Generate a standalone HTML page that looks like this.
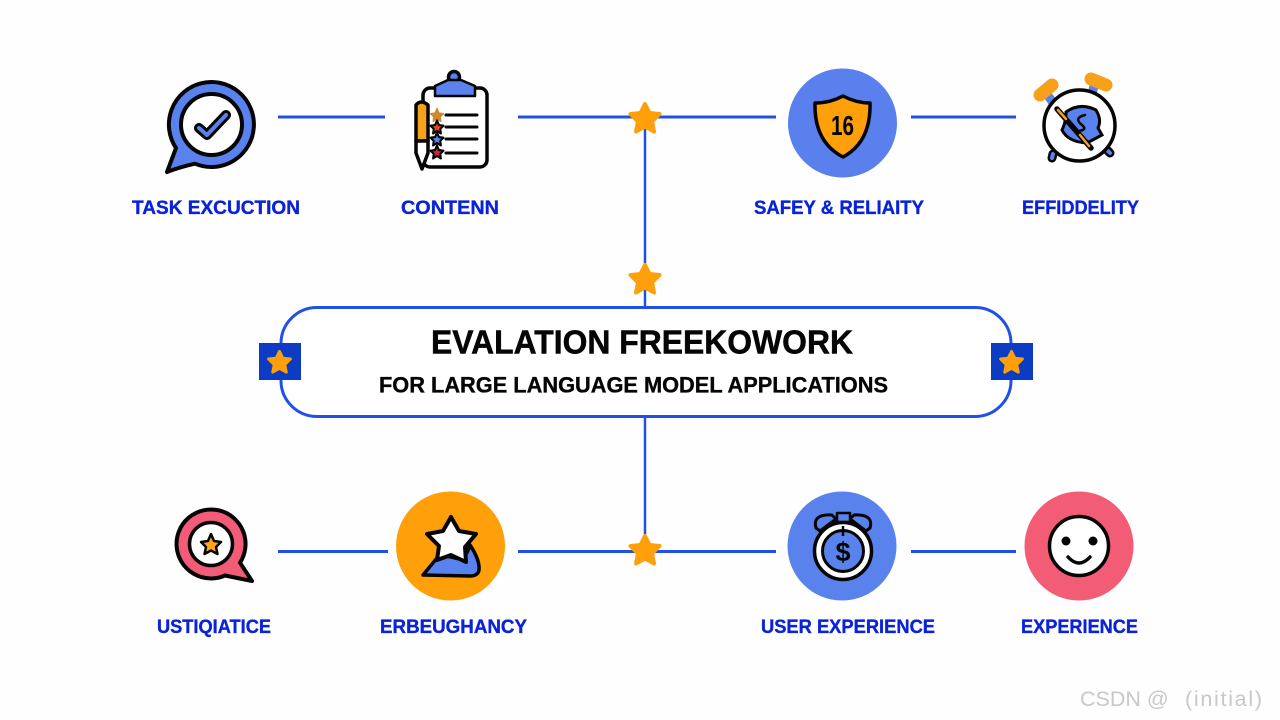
<!DOCTYPE html>
<html><head><meta charset="utf-8"><style>
html,body{margin:0;padding:0;background:#fefefe;width:1280px;height:720px;overflow:hidden}
svg{display:block}
text{font-family:"Liberation Sans",sans-serif;font-weight:700}
.l{fill:#0a22d8;font-size:19px;stroke:#0a22d8;stroke-width:.35px}
</style></head><body>
<svg width="1280" height="720" viewBox="0 0 1280 720" xmlns="http://www.w3.org/2000/svg">
<defs>
<path id="s" d="M0,-14 L4.500,-5 L14.500,-4 L7,3.500 L9,13.500 L0,8.500 L-9,13.500 L-7,3.500 L-14.500,-4 L-4.500,-5 Z" fill="#ff9f0a" stroke="#ff9f0a" stroke-width="4" stroke-linejoin="round"/>
<path id="t" d="M0,-5 L1.500,-1.500 L5,-1 L2.500,1.500 L3,5 L0,3 L-3,5 L-2.500,1.500 L-5,-1 L-1.500,-1.500 Z" stroke-linejoin="round"/>
</defs>
<!-- connectors -->
<g stroke="#2050e8" stroke-width="3" fill="none">
<path d="M278 117H385M518 117H776M911 117H1016M278 551.500H388M518 551.500H776M911 551.500H1016"/>
<path d="M645 117V307M645 416V551" stroke-width="2.500"/>
<rect x="281" y="307.500" width="730" height="109" rx="36" fill="#fff"/>
</g>
<use href="#s" x="645" y="118"/>
<use href="#s" x="645" y="279"/>
<use href="#s" x="645" y="550"/>
<rect x="259" y="343" width="42" height="37" fill="#0c3cc4"/>
<rect x="991" y="343" width="42" height="37" fill="#0c3cc4"/>
<use href="#s" transform="translate(279.500 362) scale(.75)"/>
<use href="#s" transform="translate(1011.500 362) scale(.75)"/>
<!-- center text -->
<text x="431" y="353.500" font-size="33.500" textLength="422" lengthAdjust="spacingAndGlyphs" fill="#050505" stroke="#050505" stroke-width=".5">EVALATION FREEKOWORK</text>
<text x="379" y="392.500" font-size="22" textLength="509" lengthAdjust="spacingAndGlyphs" fill="#050505" stroke="#050505" stroke-width=".35">FOR LARGE LANGUAGE MODEL APPLICATIONS</text>
<!-- labels -->
<text class="l" x="132" y="214" textLength="168" lengthAdjust="spacingAndGlyphs">TASK EXCUCTION</text>
<text class="l" x="401" y="214" textLength="98" lengthAdjust="spacingAndGlyphs">CONTENN</text>
<text class="l" x="754" y="214" textLength="170" lengthAdjust="spacingAndGlyphs">SAFEY &amp; RELIAITY</text>
<text class="l" x="1022" y="214" textLength="117" lengthAdjust="spacingAndGlyphs">EFFIDDELITY</text>
<text class="l" x="157" y="633" textLength="114" lengthAdjust="spacingAndGlyphs">USTIQIATICE</text>
<text class="l" x="380" y="633" textLength="147" lengthAdjust="spacingAndGlyphs">ERBEUGHANCY</text>
<text class="l" x="761" y="633" textLength="174" lengthAdjust="spacingAndGlyphs">USER EXPERIENCE</text>
<text class="l" x="1021" y="633" textLength="117" lengthAdjust="spacingAndGlyphs">EXPERIENCE</text>
<!-- task icon -->
<g stroke="#050505" stroke-width="4" stroke-linejoin="round" stroke-linecap="round">
<path d="M167 172 L176 148 A42.500 42.500 0 1 1 195 163.700 Q180 167 167 172 Z" fill="#5a82ee"/>
<circle cx="211.500" cy="124.500" r="30.500" fill="#fff"/>
<path d="M199 128 L207 135 L226 115" fill="none" stroke-width="10"/>
<path d="M199 128 L207 135 L226 115" fill="none" stroke="#5a82ee" stroke-width="4"/>
</g>
<!-- clipboard -->
<g stroke="#050505" stroke-linejoin="round" stroke-linecap="round">
<rect x="423" y="88" width="64" height="79" rx="7" fill="#fff" stroke-width="3.500"/>
<circle cx="454" cy="77" r="5.500" fill="#5a82ee" stroke-width="3.500"/>
<path d="M435 86 L448 80 H461 L475 86 V96 H435 Z" fill="#5a82ee" stroke-width="2.500"/>
<path d="M446 115H477M446 127H477M446 139H477M446 153H477" stroke-width="3" fill="none"/>
<path d="M416 105 Q421 99 428 105 V141 H416 Z" fill="#f7a01a" stroke-width="3.500"/>
<path d="M416 141 H428 V153 L422 169 L416 153 Z" fill="#fff" stroke-width="3.500"/>
<use href="#t" transform="translate(437 115) scale(1.300)" fill="#cf8a30" stroke="#cf8a30" stroke-width="1"/>
<use href="#t" transform="translate(437 127) scale(1.300)" fill="#e8451c" stroke-width="1.600"/>
<use href="#t" transform="translate(437 139) scale(1.300)" fill="#5a82ee" stroke-width="1.600"/>
<use href="#t" transform="translate(437 152) scale(1.300)" fill="#d8203c" stroke-width="1.600"/>
</g>
<!-- shield -->
<circle cx="842.500" cy="123" r="54.500" fill="#5a80ee"/>
<path d="M843 96 Q856 103 870 103 Q871 142 843 157 Q814 142 815 103 Q830 103 843 96 Z" fill="#ff9f0a" stroke="#050505" stroke-width="3.500" stroke-linejoin="round"/>
<text x="831" y="135" font-size="28" textLength="23" lengthAdjust="spacingAndGlyphs" fill="#050505">16</text>
<!-- alarm clock -->
<g stroke-linecap="round">
<path d="M1049 97 L1054 104M1094 86 L1092 94" stroke="#5a82ee" stroke-width="9"/>
<path d="M1040 95 L1052 85M1091 79 L1106 85" stroke="#f7a01a" stroke-width="13"/>
<path d="M1053 154 L1052 158M1107 150 L1110 153" stroke="#050505" stroke-width="9"/>
<path d="M1053 154 L1052 158M1107 150 L1110 153" stroke="#5a82ee" stroke-width="4"/>
<circle cx="1079.500" cy="125.500" r="35.500" fill="#fff" stroke="#050505" stroke-width="3.500"/>
<path d="M1066 112 Q1080 102 1096 110 Q1102 120 1098 128 L1102 135 L1087 143 Q1068 142 1062 130 Q1066 122 1066 112 Z" fill="#5a82ee" stroke="#050505" stroke-width="3"/>
<path d="M1057 109 L1091 148" stroke="#050505" stroke-width="5.500"/>
<path d="M1058 110 L1066 119M1080 135 L1089 146" stroke="#f7a01a" stroke-width="2.500"/>
<path d="M1085 115 Q1073 118 1082 125 Q1088 130 1078 131" fill="none" stroke="#050505" stroke-width="2.500"/>
</g>
<!-- pink bubble -->
<path d="M252 581 L225 575.500 A34.500 34.500 0 1 1 240 562.700 Z" fill="#f25c78" stroke="#050505" stroke-width="4" stroke-linejoin="round"/>
<circle cx="211" cy="544" r="21.500" fill="#fff" stroke="#050505" stroke-width="3.500"/>
<path d="M211 534 L214 541 L221 542 L216 547 L217.500 554 L211 550.500 L204.500 554 L206 547 L201 542 L208 541 Z" fill="#ffa815" stroke="#050505" stroke-width="2.500" stroke-linejoin="round"/>
<!-- orange circle -->
<circle cx="450.500" cy="546" r="54.500" fill="#ff9f0a"/>
<path d="M423 575 L437 558 Q447 555 455 558 Q465 562 470 545 Q480 560 479 570 Q478 576 470 576 Z" fill="#5a82ee" stroke="#050505" stroke-width="3.500" stroke-linejoin="round"/>
<path d="M451 517 L459 531 L476 534 L465 547 L466 562 L451 555 L437 560 L439 546 L427 534 L443 531 Z" fill="#fff" stroke="#050505" stroke-width="4" stroke-linejoin="round"/>
<!-- user clock -->
<circle cx="842" cy="546" r="54.500" fill="#5a82ec"/>
<g stroke="#050505" stroke-linejoin="round">
<path d="M816 528 Q812 514 832 515 L836 519 L820 531 Z M870 528 Q874 514 854 515 L850 519 L866 531 Z" fill="#5a82ec" stroke-width="3"/>
<rect x="837" y="513" width="13" height="9" fill="#5a82ec" stroke-width="2.500"/>
<circle cx="843" cy="551" r="28.500" fill="#fff" stroke-width="3.500"/>
<circle cx="843" cy="551" r="20.500" fill="#5a82ec" stroke-width="3"/>
<path d="M843 526V536" stroke-width="2.500"/>
</g>
<text x="843" y="561" font-size="27" text-anchor="middle" fill="#050505">$</text>
<!-- smile -->
<circle cx="1079" cy="546" r="54.500" fill="#f25c74"/>
<circle cx="1079" cy="546" r="29.500" fill="#fff" stroke="#050505" stroke-width="3.500"/>
<circle cx="1066" cy="541" r="4.500" fill="#050505"/>
<circle cx="1093" cy="541" r="4.500" fill="#050505"/>
<path d="M1068 557 Q1079 569 1090 557" fill="none" stroke="#050505" stroke-width="3.500" stroke-linecap="round"/>
<!-- watermark -->
<text x="1080" y="706" font-size="21.500" fill="#c8c8c8" style="font-weight:400">CSDN @</text>
<text x="1185" y="706" font-size="21.500" fill="#c8c8c8" style="font-weight:400" textLength="77" lengthAdjust="spacing">(initial)</text>
</svg>
</body></html>
